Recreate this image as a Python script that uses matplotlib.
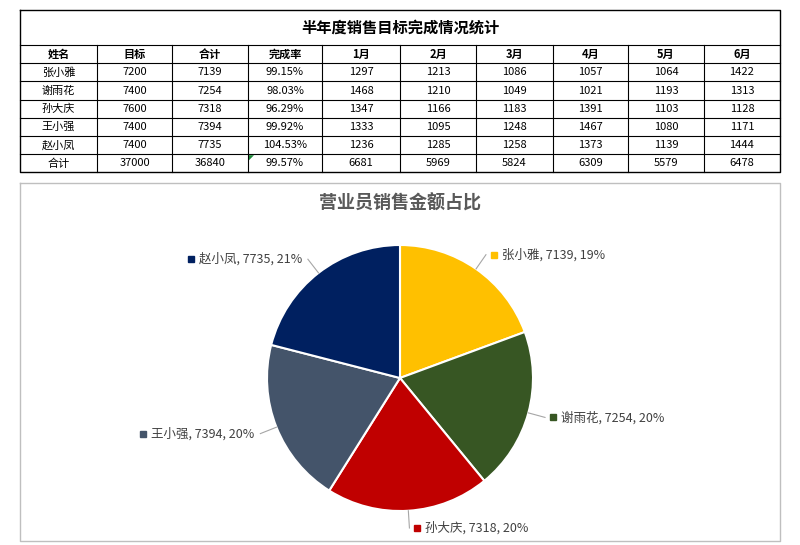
import matplotlib
matplotlib.use('Agg')
import matplotlib.pyplot as plt
import numpy as np

plt.rcParams['font.family'] = ['Noto Sans CJK SC', 'DejaVu Sans']

title = '半年度销售目标完成情况统计'
headers = ['姓名', '目标', '合计', '完成率', '1月', '2月', '3月', '4月', '5月', '6月']
names = ['张小雅', '谢雨花', '孙大庆', '王小强', '赵小凤', '合计']
targets = [7200, 7400, 7600, 7400, 7400, 37000]
totals = [7139, 7254, 7318, 7394, 7735, 36840]
rates = ['99.15%', '98.03%', '96.29%', '99.92%', '104.53%', '99.57%']
months = [
    [1297, 1213, 1086, 1057, 1064, 1422],
    [1468, 1210, 1049, 1021, 1193, 1313],
    [1347, 1166, 1183, 1391, 1103, 1128],
    [1333, 1095, 1248, 1467, 1080, 1171],
    [1236, 1285, 1258, 1373, 1139, 1444],
    [6681, 5969, 5824, 6309, 5579, 6478],
]

chart_title = '营业员销售金额占比'
pie_names = names[:5]
pie_values = totals[:5]
pie_colors = ['#FFC000', '#375623', '#C00000', '#44546A', '#002060']

W, H = 800, 545
fig = plt.figure(figsize=(W / 100, H / 100), dpi=100)
ax = fig.add_axes([0, 0, 1, 1])
ax.set_xlim(0, W)
ax.set_ylim(0, H)
ax.axis('off')

def Y(py):
    return H - py

# table
cols = [20, 97, 172, 248, 322, 400, 476, 553, 628, 704, 780]
top, title_bot = 10, 45
row_h = 18.2
rows = [title_bot + i * row_h for i in range(len(names) + 2)]
bottom = rows[-1]
ax.plot([20, 780, 780, 20, 20], [Y(top), Y(top), Y(bottom), Y(bottom), Y(top)], color='black', lw=1)
for r in rows[:-1]:
    ax.plot([20, 780], [Y(r), Y(r)], color='black', lw=0.8)
for c in cols[1:-1]:
    ax.plot([c, c], [Y(title_bot), Y(bottom)], color='black', lw=0.8)
ax.text(400, Y((top + title_bot) / 2), title, ha='center', va='center', fontsize=11, fontweight='bold')
for j, h in enumerate(headers):
    ax.text((cols[j] + cols[j + 1]) / 2, Y(rows[0] + row_h / 2), h, ha='center', va='center',
            fontsize=8, fontweight='bold')
for i, n in enumerate(names):
    cells = [n, str(targets[i]), str(totals[i]), rates[i]] + [str(v) for v in months[i]]
    yc = Y(rows[i + 1] + row_h / 2)
    for j, s in enumerate(cells):
        ax.text((cols[j] + cols[j + 1]) / 2, yc, s, ha='center', va='center', fontsize=8)
ax.fill([249, 254, 249], [Y(rows[6] + 1), Y(rows[6] + 1), Y(rows[6] + 6)], color='#1E8C3A', lw=0)

# chart box
ax.plot([20, 780, 780, 20, 20], [Y(183), Y(183), Y(541), Y(541), Y(183)], color='#BFBFBF', lw=1)
ax.text(400, Y(203), chart_title, ha='center', va='center', fontsize=13, fontweight='bold', color='#595959')

cx, cy, r = 400, Y(378), 133
wedges, _ = ax.pie(pie_values, colors=pie_colors, startangle=90, counterclock=False,
                   center=(cx, cy), radius=r, wedgeprops=dict(edgecolor='white', linewidth=1.5),
                   frame=True)
ax.set_xlim(0, W)
ax.set_ylim(0, H)
ax.set_aspect('equal')
ax.axis('off')

total = sum(pie_values)
for w, n, v, col in zip(wedges, pie_names, pie_values, pie_colors):
    ang = np.deg2rad((w.theta1 + w.theta2) / 2)
    ex, ey = cx + r * np.cos(ang), cy + r * np.sin(ang)
    lx, ly = cx + 1.13 * r * np.cos(ang), cy + 1.13 * r * np.sin(ang)
    right = np.cos(ang) >= 0
    ax.plot([ex, lx], [ey, ly], color='#A6A6A6', lw=0.8)
    label = f'{n}, {v}, {round(v / total * 100)}%'
    off = 6 if right else -6
    tx = ax.text(lx + off + (10 if right else 0), ly, label, ha='left' if right else 'right',
                 va='center', fontsize=9, color='#404040')
    if right:
        ax.plot(lx + off + 2, ly, marker='s', ms=4, color=col)
    else:
        # marker placed left of the text
        fig.canvas.draw()
        bb = tx.get_window_extent().transformed(ax.transData.inverted())
        ax.plot(bb.x0 - 8, ly, marker='s', ms=4, color=col)

fig.savefig('out.png', dpi=100)
